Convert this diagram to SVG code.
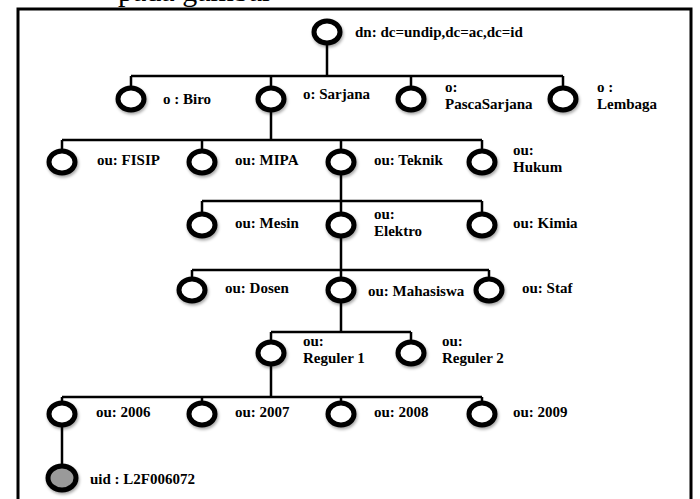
<svg xmlns="http://www.w3.org/2000/svg" width="700" height="499" viewBox="0 0 700 499">
  <style>
    .frame { fill: none; stroke: #000; stroke-width: 3; }
    .caption { font-family: "Liberation Serif", "Times New Roman", serif; font-size: 30px; fill: #000; }
    .node { fill: #fff; stroke: #000; stroke-width: 5; filter: url(#soft); }
    .leaf { fill: #9a9a9a; }
    .label { font-family: "Liberation Serif", "Times New Roman", serif; font-weight: bold; font-size: 15px; fill: #000; }
    .wire { fill: none; stroke: #000; stroke-width: 2.5; }
  </style>
  <defs>
    <filter id="soft" x="-40%" y="-40%" width="190%" height="190%">
      <feDropShadow dx="1" dy="2" stdDeviation="1.5" flood-color="#000" flood-opacity="0.35"/>
    </filter>
  </defs>

  <rect width="700" height="499" fill="#fff"/>
  <text class="caption" x="118" y="1">pada gambar</text>
  <rect class="frame" x="18" y="9" width="673" height="510"/>

  <g id="connectors">
    <path class="wire" d="M327 45 V76 M131 76 H563 M131 76 V87 M271 76 V87 M411 76 V87 M563 76 V87"/>
    <path class="wire" d="M271 112 V140 M62 140 H482 M62 140 V150 M202 140 V150 M341 140 V150 M482 140 V150"/>
    <path class="wire" d="M341 175 V201 M202 201 H482 M202 201 V213 M341 201 V213 M482 201 V213"/>
    <path class="wire" d="M341 238 V270 M192 270 H489 M192 270 V278 M341 270 V278 M489 270 V278"/>
    <path class="wire" d="M341 303 V332 M271 332 H411 M271 332 V341 M411 332 V341"/>
    <path class="wire" d="M271 366 V397 M62 397 H482 M62 397 V402 M202 397 V402 M341 397 V402 M482 397 V402"/>
    <path class="wire" d="M62 427 V466"/>
  </g>

  <g id="root"><ellipse class="node" cx="327" cy="32" rx="13" ry="11"/><text class="label" x="355" y="37">dn: dc=undip,dc=ac,dc=id</text></g>

  <g id="o-biro"><ellipse class="node" cx="131" cy="99" rx="13" ry="11"/><text class="label" x="163" y="104">o : Biro</text></g>
  <g id="o-sarjana"><ellipse class="node" cx="271" cy="99" rx="13" ry="11"/><text class="label" x="303" y="99">o: Sarjana</text></g>
  <g id="o-pascasarjana"><ellipse class="node" cx="411" cy="99" rx="13" ry="11"/><text class="label" x="445" y="92">o:<tspan x="445" dy="17">PascaSarjana</tspan></text></g>
  <g id="o-lembaga"><ellipse class="node" cx="563" cy="99" rx="13" ry="11"/><text class="label" x="597" y="92">o :<tspan x="597" dy="17">Lembaga</tspan></text></g>

  <g id="ou-fisip"><ellipse class="node" cx="62" cy="162" rx="13" ry="11"/><text class="label" x="97" y="165">ou: FISIP</text></g>
  <g id="ou-mipa"><ellipse class="node" cx="202" cy="162" rx="13" ry="11"/><text class="label" x="235" y="165">ou: MIPA</text></g>
  <g id="ou-teknik"><ellipse class="node" cx="341" cy="162" rx="13" ry="11"/><text class="label" x="374" y="165">ou: Teknik</text></g>
  <g id="ou-hukum"><ellipse class="node" cx="482" cy="162" rx="13" ry="11"/><text class="label" x="513" y="155">ou:<tspan x="513" dy="17">Hukum</tspan></text></g>

  <g id="ou-mesin"><ellipse class="node" cx="202" cy="225" rx="13" ry="11"/><text class="label" x="235" y="228">ou: Mesin</text></g>
  <g id="ou-elektro"><ellipse class="node" cx="341" cy="225" rx="13" ry="11"/><text class="label" x="374" y="219">ou:<tspan x="374" dy="17">Elektro</tspan></text></g>
  <g id="ou-kimia"><ellipse class="node" cx="482" cy="225" rx="13" ry="11"/><text class="label" x="513" y="228">ou: Kimia</text></g>

  <g id="ou-dosen"><ellipse class="node" cx="192" cy="290" rx="13" ry="11"/><text class="label" x="225" y="293">ou: Dosen</text></g>
  <g id="ou-mahasiswa"><ellipse class="node" cx="341" cy="290" rx="13" ry="11"/><text class="label" x="368" y="296">ou: Mahasiswa</text></g>
  <g id="ou-staf"><ellipse class="node" cx="489" cy="290" rx="13" ry="11"/><text class="label" x="522" y="293">ou: Staf</text></g>

  <g id="ou-reguler1"><ellipse class="node" cx="271" cy="353" rx="13" ry="11"/><text class="label" x="303" y="346">ou:<tspan x="303" dy="17">Reguler 1</tspan></text></g>
  <g id="ou-reguler2"><ellipse class="node" cx="411" cy="353" rx="13" ry="11"/><text class="label" x="442" y="346">ou:<tspan x="442" dy="17">Reguler 2</tspan></text></g>

  <g id="ou-2006"><ellipse class="node" cx="62" cy="414" rx="13" ry="11"/><text class="label" x="96" y="417">ou: 2006</text></g>
  <g id="ou-2007"><ellipse class="node" cx="202" cy="414" rx="13" ry="11"/><text class="label" x="235" y="417">ou: 2007</text></g>
  <g id="ou-2008"><ellipse class="node" cx="341" cy="414" rx="13" ry="11"/><text class="label" x="374" y="417">ou: 2008</text></g>
  <g id="ou-2009"><ellipse class="node" cx="482" cy="414" rx="13" ry="11"/><text class="label" x="513" y="417">ou: 2009</text></g>

  <g id="uid"><ellipse class="node leaf" cx="62" cy="478" rx="14" ry="12"/><text class="label" x="90" y="484">uid : L2F006072</text></g>
</svg>
